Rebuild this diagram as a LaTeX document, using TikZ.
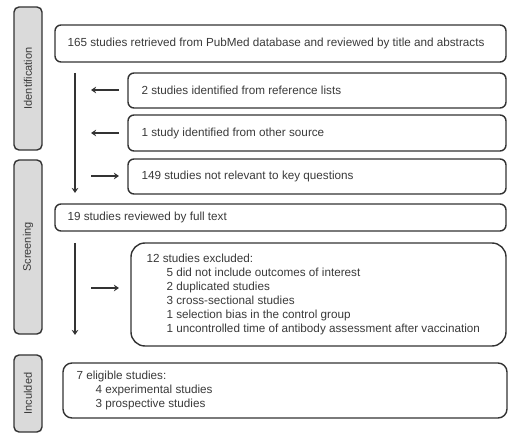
\documentclass[tikz,border=0pt]{standalone}
\usepackage{fontspec}
\setmainfont{Liberation Sans}
\usetikzlibrary{arrows.meta}
\definecolor{ink}{HTML}{333333}
\definecolor{txt}{HTML}{3A3A3A}
\definecolor{barfill}{HTML}{DADADA}
\begin{document}
\begin{tikzpicture}[x=1pt,y=-1pt,
  every node/.style={font=\fontsize{11.7}{14}\selectfont, text=txt},
  stagebar/.style={draw=ink, line width=1.4pt, fill=barfill, rounded corners=5pt},
  flowbox/.style={draw=ink, line width=1.4pt, fill=white, rounded corners=6pt},
  bigbox/.style={draw=ink, line width=1.4pt, fill=white, rounded corners=14pt},
  flowarrow/.style={draw=ink, line width=1.3pt, -{Stealth[length=5pt,width=6.5pt,inset=1.5pt]}}
]
\useasboundingbox (0,0) rectangle (520,446);
% side bars
\draw[stagebar] (14,7) rectangle (42,150);
\draw[stagebar] (14,160) rectangle (42,334);
\draw[stagebar] (14,355) rectangle (42,432);
\node[rotate=90, font=\fontsize{11}{13}\selectfont] (lid) at (28,78.5) {Identification};
\node[rotate=90, font=\fontsize{11}{13}\selectfont] (lsc) at (28,247) {Screening};
\node[rotate=90, font=\fontsize{11}{13}\selectfont] (lin) at (28,393.5) {Inculded};
% boxes
\draw[flowbox] (55,25) rectangle (506,62);
\node[anchor=west] (b1) at (64,43.5) {165 studies retrieved from PubMed database and reviewed by title and abstracts};
\draw[flowbox] (128,73) rectangle (506,108);
\node[anchor=west] (b2) at (138,90.5) {2 studies identified from reference lists};
\draw[flowbox] (128,115) rectangle (506,151);
\node[anchor=west] (b3) at (138,133) {1 study identified from other source};
\draw[flowbox] (128,159) rectangle (506,194);
\node[anchor=west] (b4) at (138,176.5) {149 studies not relevant to key questions};
\draw[flowbox] (55,204) rectangle (506,231);
\node[anchor=west] (b5) at (64,217.5) {19 studies reviewed by full text};
\draw[bigbox] (131,243) rectangle (506,346);
\node[anchor=west, align=left] (b6) at (143,294.5) {12 studies excluded:\\
\hspace*{20pt}5 did not include outcomes of interest\\
\hspace*{20pt}2 duplicated studies\\
\hspace*{20pt}3 cross-sectional studies\\
\hspace*{20pt}1 selection bias in the control group\\
\hspace*{20pt}1 uncontrolled time of antibody assessment after vaccination};
\draw[flowbox, rounded corners=9pt] (63,363) rectangle (507,418);
\node[anchor=west, align=left] (b7) at (73,390.5) {7 eligible studies:\\
\hspace*{19pt}4 experimental studies\\
\hspace*{19pt}3 prospective studies};
% arrow anchors
\coordinate (d1s) at (75,73);
\coordinate (d1e) at (75,193);
\coordinate (d2s) at (75,243);
\coordinate (d2e) at (75,335);
\coordinate (l1s) at (119,90);
\coordinate (l1e) at (91,90);
\coordinate (l2s) at (119,133);
\coordinate (l2e) at (91,133);
\coordinate (r1s) at (91,176);
\coordinate (r1e) at (119,176);
\coordinate (r2s) at (91,288);
\coordinate (r2e) at (119,288);
\draw[flowarrow] (d1s) -- (d1e);
\draw[flowarrow] (d2s) -- (d2e);
\draw[flowarrow] (l1s) -- (l1e);
\draw[flowarrow] (l2s) -- (l2e);
\draw[flowarrow] (r1s) -- (r1e);
\draw[flowarrow] (r2s) -- (r2e);
\end{tikzpicture}
\end{document}
